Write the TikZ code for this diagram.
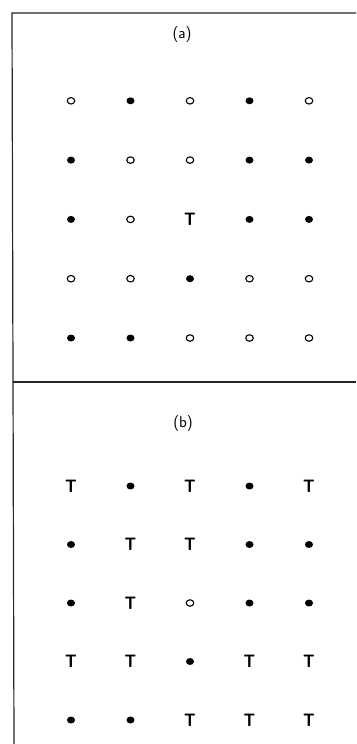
\documentclass[tikz,border=0pt]{standalone}
\usetikzlibrary{shapes.geometric}

\begin{document}
\begin{tikzpicture}[
  x=1pt,y=-1pt,
  frame/.style={line width=1.2pt,draw=black!85},
  fulldot/.style={ellipse,fill=black,minimum width=8pt,minimum height=7pt,inner sep=0pt},
  opendot/.style={ellipse,draw=black,line width=1.1pt,minimum width=7.5pt,minimum height=6.5pt,inner sep=0pt},
  tee/.style={font=\sffamily\bfseries\fontsize{18}{18}\selectfont,inner sep=0pt,
              execute at begin node=\scalebox{0.88}[1]{T}},
  lbl/.style={font=\sffamily\fontsize{16}{16}\selectfont,inner sep=0pt}
]
\useasboundingbox (0,0) rectangle (356,744);

% ---- frame ----
\coordinate (tl) at (12,13);
\coordinate (tr) at (356,13);
\coordinate (ml) at (13,382);
\coordinate (mr) at (356,382);
\coordinate (bl) at (14,744);
\draw[frame] (tr) -- (tl) -- (bl);
\draw[frame] (ml) -- (mr);

% ---- panel (a) ----
\node[lbl] (lbl-a) at (182,35) {(a)};
\foreach \row [count=\r] in {
    {opendot,fulldot,opendot,fulldot,opendot},
    {fulldot,opendot,opendot,fulldot,fulldot},
    {fulldot,opendot,tee,fulldot,fulldot},
    {opendot,opendot,fulldot,opendot,opendot},
    {fulldot,fulldot,opendot,opendot,opendot}} {
  \foreach \kind [count=\c] in \row {
    \node[\kind] (a-\r-\c) at ({11.5+59.5*\c},{41.5+59.3*\r}) {};
  }
}

% ---- panel (b) ----
\node[lbl] (lbl-b) at (183,424) {(b)};
\foreach \row [count=\r] in {
    {tee,fulldot,tee,fulldot,tee},
    {fulldot,tee,tee,fulldot,fulldot},
    {fulldot,tee,opendot,fulldot,fulldot},
    {tee,tee,fulldot,tee,tee},
    {fulldot,fulldot,tee,tee,tee}} {
  \foreach \kind [count=\c] in \row {
    \node[\kind] (b-\r-\c) at ({11.5+59.5*\c},{427.5+58.5*\r}) {};
  }
}

\end{tikzpicture}
\end{document}
